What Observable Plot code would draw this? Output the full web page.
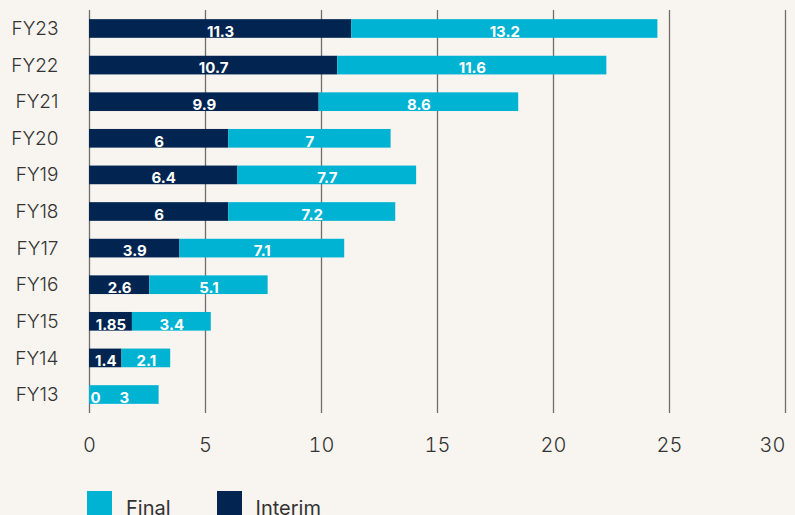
<!DOCTYPE html>
<html>
<head>
<meta charset="utf-8">
<script src="https://cdn.jsdelivr.net/npm/d3@7"></script>
<script src="https://cdn.jsdelivr.net/npm/@observablehq/plot@0.6"></script>
<style>
  html, body { margin: 0; padding: 0; background: #f8f5f0; }
  body { width: 795px; height: 515px; overflow: hidden; font-family: Inter, "Noto Sans", sans-serif; }
  #legend { position: absolute; left: 87px; top: 491px; display: flex; align-items: flex-start; font-size: 20px; color: #333; font-weight: 400; }
  .item { display: flex; align-items: flex-start; margin-right: 46px; }
  .sw { width: 25px; height: 25px; margin-right: 14px; }
  .lab { line-height: 25px; margin-top: 5px; }
</style>
</head>
<body>
<div id="chart"></div>
<div id="legend"></div>
<script>
const years   = ["FY23","FY22","FY21","FY20","FY19","FY18","FY17","FY16","FY15","FY14","FY13"];
const interim = [11.3, 10.7, 9.9, 6, 6.4, 6, 3.9, 2.6, 1.85, 1.4, 0];
const final   = [13.2, 11.6, 8.6, 7, 7.7, 7.2, 7.1, 5.1, 3.4, 2.1, 3];
const xTicks  = [0, 5, 10, 15, 20, 25, 30];
const seriesNames = ["Interim", "Final"];
const colors = {Interim: "#012550", Final: "#00b3d3"};

const rows = [];
years.forEach((y, i) => rows.push({year: y, series: "Interim", value: interim[i]}));
years.forEach((y, i) => rows.push({year: y, series: "Final", value: final[i]}));

const stackOpts = {x: "value", y: "year", z: "series", order: seriesNames};

const chart = Plot.plot({
  width: 795,
  height: 463,
  marginLeft: 89,
  marginRight: 10,
  marginTop: 10,
  marginBottom: 50,
  style: {background: "transparent", fontFamily: "Inter, 'Noto Sans', sans-serif"},
  x: {domain: [0, 30]},
  y: {domain: years, paddingInner: 0.49, paddingOuter: 0.25, round: false},
  color: {domain: seriesNames, range: seriesNames.map(s => colors[s])},
  marks: [
    Plot.gridX(xTicks, {stroke: "#6e6e6e", strokeOpacity: 1, strokeWidth: 1.3}),
    Plot.barX(rows, Plot.stackX({...stackOpts, fill: "series"})),
    Plot.text(rows.filter(d => d.value > 0), Plot.stackX({...stackOpts, text: d => String(d.value),
      fill: "white", fontWeight: 700, fontSize: 15, dy: 3})),
    Plot.text(rows.filter(d => d.value === 0), Plot.stackX({...stackOpts, text: d => String(d.value),
      fill: "white", fontWeight: 700, fontSize: 15, dy: 3, textAnchor: "start", dx: 1})),
    Plot.axisY({tickSize: 0, tickPadding: 31, fontSize: 19, fontWeight: 300, fill: "#333", label: null}),
    Plot.axisX(xTicks.slice(0, -1), {tickSize: 0, tickPadding: 24, fontSize: 20, fontWeight: 300, fill: "#333", label: null}),
    Plot.axisX(xTicks.slice(-1), {tickSize: 0, tickPadding: 24, fontSize: 20, fontWeight: 300, fill: "#333", label: null, textAnchor: "end"})
  ]
});
document.getElementById("chart").appendChild(chart);

const legend = document.getElementById("legend");
["Final", "Interim"].forEach(s => {
  const it = document.createElement("div");
  it.className = "item";
  it.innerHTML = `<div class="sw" style="background:${colors[s]}"></div><div class="lab">${s}</div>`;
  legend.appendChild(it);
});
</script>
</body>
</html>
